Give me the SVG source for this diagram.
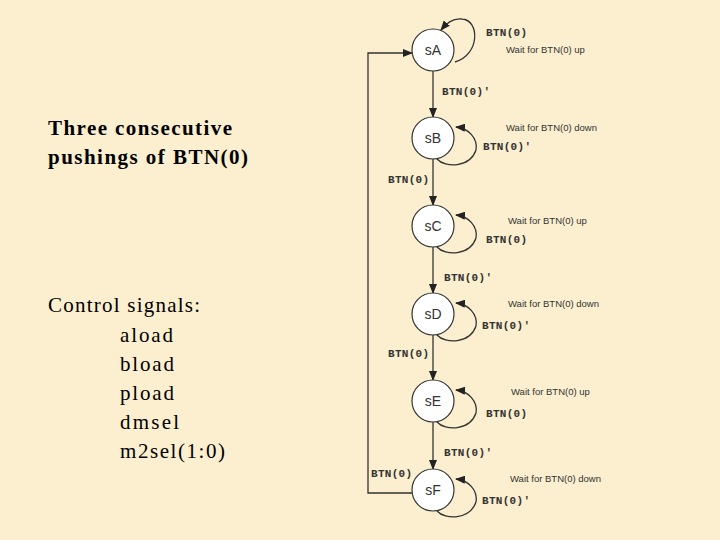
<svg xmlns="http://www.w3.org/2000/svg" width="720" height="540" viewBox="0 0 720 540">
<style>
.st circle{fill:#fff;stroke:#333;stroke-width:1.2}
.st text{font-family:"Liberation Sans",Arial,sans-serif;font-size:14px;fill:#333;text-anchor:middle}
.c{fill:none;stroke:#333;stroke-width:1.3}
.b{font-family:"Liberation Mono","Courier New",monospace;font-weight:bold;font-size:11px;fill:#333;letter-spacing:0.3px}
.w{font-family:"Liberation Sans",Arial,sans-serif;font-size:9.5px;fill:#333}
.t{font-family:"Liberation Serif","Times New Roman",serif;font-size:21px;fill:#000}
</style>
<defs><marker id="a" markerWidth="10" markerHeight="8" refX="9" refY="4" orient="auto" markerUnits="userSpaceOnUse"><path d="M0,0L10,4L0,8z" fill="#222"/></marker></defs>
<rect width="720" height="540" fill="#fbefcf"/>
<text class="t" x="48" y="135" font-weight="bold" textLength="184" lengthAdjust="spacing">Three consecutive</text>
<text class="t" x="48" y="164" font-weight="bold" textLength="200" lengthAdjust="spacing">pushings of BTN(0)</text>
<text class="t" x="48" y="312" textLength="152" lengthAdjust="spacing">Control signals:</text>
<text class="t" x="120" y="342" textLength="53" lengthAdjust="spacing">aload</text>
<text class="t" x="120" y="371" textLength="54" lengthAdjust="spacing">bload</text>
<text class="t" x="120" y="400" textLength="54" lengthAdjust="spacing">pload</text>
<text class="t" x="120" y="429" textLength="59" lengthAdjust="spacing">dmsel</text>
<text class="t" x="120" y="458" textLength="105" lengthAdjust="spacing">m2sel(1:0)</text>
<g id="connectors">
<path class="c" marker-end="url(#a)" d="M455,62 C480,55 480,20 462,19 C452,18 446,24 441,30"/>
<path class="c" marker-end="url(#a)" d="M433,71 V117"/>
<path class="c" marker-end="url(#a)" d="M437,159 C445,168 470,168 476,150 C478,138 468,128 456,127"/>
<path class="c" marker-end="url(#a)" d="M433,159 V205"/>
<path class="c" marker-end="url(#a)" d="M437,247 C445,256 470,256 476,238 C478,226 468,216 456,215"/>
<path class="c" marker-end="url(#a)" d="M433,247 V293"/>
<path class="c" marker-end="url(#a)" d="M437,335 C445,344 470,344 476,326 C478,314 468,304 456,303"/>
<path class="c" marker-end="url(#a)" d="M433,335 V380"/>
<path class="c" marker-end="url(#a)" d="M437,422 C445,431 470,431 476,413 C478,401 468,391 456,390"/>
<path class="c" marker-end="url(#a)" d="M433,422 V469"/>
<path class="c" marker-end="url(#a)" d="M437,511 C445,520 470,520 476,502 C478,490 468,480 456,479"/>
<path class="c" marker-end="url(#a)" d="M412,493 H368 V53 H412"/>
<text class="b" x="486" y="36">BTN(0)</text>
<text class="w" x="506" y="53">Wait for BTN(0) up</text>
<text class="b" x="442" y="95">BTN(0)'</text>
<text class="w" x="506" y="131">Wait for BTN(0) down</text>
<text class="b" x="483" y="150">BTN(0)'</text>
<text class="b" x="388" y="183">BTN(0)</text>
<text class="w" x="508" y="224">Wait for BTN(0) up</text>
<text class="b" x="486" y="243">BTN(0)</text>
<text class="b" x="444" y="281">BTN(0)'</text>
<text class="w" x="508" y="307">Wait for BTN(0) down</text>
<text class="b" x="482" y="329">BTN(0)'</text>
<text class="b" x="388" y="357">BTN(0)</text>
<text class="w" x="511" y="395">Wait for BTN(0) up</text>
<text class="b" x="486" y="417">BTN(0)</text>
<text class="b" x="444" y="456">BTN(0)'</text>
<text class="b" x="371" y="477">BTN(0)</text>
<text class="w" x="510" y="482">Wait for BTN(0) down</text>
<text class="b" x="482" y="504">BTN(0)'</text>
</g>
<g id="sA" class="st"><circle cx="433" cy="50" r="21"/><text x="433" y="55">sA</text></g>
<g id="sB" class="st"><circle cx="433" cy="138" r="21"/><text x="433" y="143">sB</text></g>
<g id="sC" class="st"><circle cx="433" cy="226" r="21"/><text x="433" y="231">sC</text></g>
<g id="sD" class="st"><circle cx="433" cy="314" r="21"/><text x="433" y="319">sD</text></g>
<g id="sE" class="st"><circle cx="433" cy="401" r="21"/><text x="433" y="406">sE</text></g>
<g id="sF" class="st"><circle cx="433" cy="490" r="21"/><text x="433" y="495">sF</text></g>
</svg>
